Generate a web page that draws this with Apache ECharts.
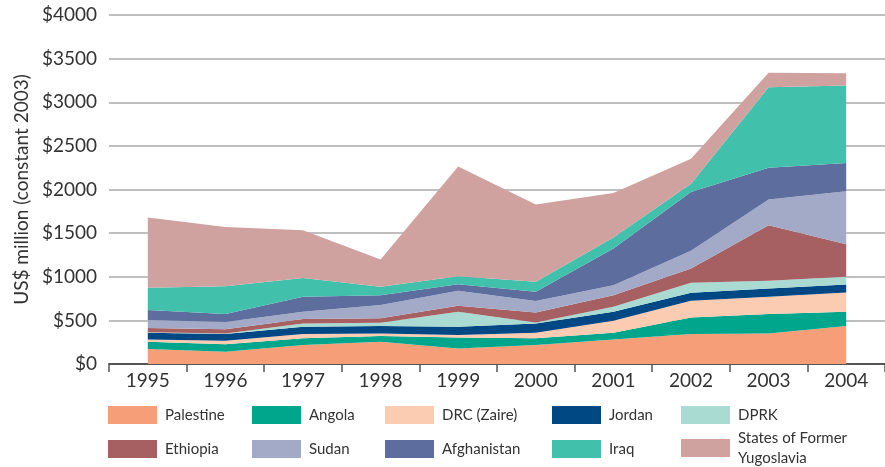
<!DOCTYPE html>
<html>
<head>
<meta charset="utf-8">
<script src="https://cdn.jsdelivr.net/npm/echarts@6/dist/echarts.min.js"></script>
<style>
    html, body { margin: 0; padding: 0; background: #fff; }
    #aid { width: 885px; height: 467px; }
</style>
</head>
<body>
<div id="aid"></div>
<script>
const years = ['1995', '1996', '1997', '1998', '1999', '2000', '2001', '2002', '2003', '2004'];
const yTicks = [0, 500, 1000, 1500, 2000, 2500, 3000, 3500, 4000];

// US$ million, stacked bottom to top
const palestine   = [172, 141, 217, 255, 179, 217, 282, 343, 351, 435];
const angola      = [83, 84, 77, 65, 126, 77, 76, 191, 221, 164];
const drc         = [27, 42, 49, 31, 27, 64, 138, 190, 198, 221];
const jordan      = [76, 76, 84, 84, 95, 107, 103, 92, 96, 92];
const dprk        = [7, 8, 38, 38, 172, 12, 57, 114, 87, 87];
const ethiopia    = [47, 46, 50, 50, 68, 114, 133, 165, 637, 374];
const sudan       = [91, 84, 84, 152, 172, 130, 115, 202, 294, 606];
const afghanistan = [115, 91, 171, 114, 76, 106, 420, 675, 366, 324];
const iraq        = [255, 320, 217, 96, 92, 115, 126, 95, 923, 889];
const yugoslavia  = [805, 679, 546, 313, 1258, 885, 510, 286, 164, 141];

const layers = [
    {name: 'Palestine', data: palestine, color: '#F59E78'},
    {name: 'Angola', data: angola, color: '#00A68B'},
    {name: 'DRC (Zaire)', data: drc, color: '#FBCCB2'},
    {name: 'Jordan', data: jordan, color: '#004883'},
    {name: 'DPRK', data: dprk, color: '#A9DBD3'},
    {name: 'Ethiopia', data: ethiopia, color: '#A66062'},
    {name: 'Sudan', data: sudan, color: '#A3AAC8'},
    {name: 'Afghanistan', data: afghanistan, color: '#5D6E9E'},
    {name: 'Iraq', data: iraq, color: '#41C0AC'},
    {name: 'States of Former Yugoslavia', data: yugoslavia, color: '#CFA19F'},
];

const font = 'Lato';
// one legend per item so nothing wraps
const legendItems = [
    {name: 'Palestine', left: 108, top: 404},
    {name: 'Angola', left: 252, top: 404},
    {name: 'DRC (Zaire)', left: 385, top: 404},
    {name: 'Jordan', left: 552, top: 404},
    {name: 'DPRK', left: 681, top: 404},
    {name: 'Ethiopia', left: 108, top: 438},
    {name: 'Sudan', left: 252, top: 438},
    {name: 'Afghanistan', left: 385, top: 438},
    {name: 'Iraq', left: 552, top: 438},
    {name: 'States of Former Yugoslavia', left: 681, top: 427},
];

const chart = echarts.init(document.getElementById('aid'));
chart.setOption({
    animation: false,
    grid: {left: 109, top: 15, width: 777, height: 349, containLabel: false},
    legend: legendItems.map(it => ({
        orient: 'vertical',
        left: it.left,
        top: it.top,
        padding: 0,
        itemWidth: 49,
        itemHeight: 18,
        icon: 'rect',
        selectedMode: false,
        data: [it.name],
        formatter: n => (n === 'States of Former Yugoslavia' ? 'States of Former\nYugoslavia' : n),
        textStyle: {
            fontFamily: font,
            fontSize: 15,
            color: '#333',
            lineHeight: 20,
            padding: [2, 0, 0, 3],
        },
    })),
    xAxis: {
        type: 'category',
        data: years,
        boundaryGap: true,
        axisLine: {lineStyle: {color: '#555', width: 2}},
        axisTick: {show: true, length: 8, lineStyle: {color: '#555', width: 1.5}},
        axisLabel: {fontFamily: font, fontSize: 19, color: '#333', margin: 7},
        splitLine: {show: false},
    },
    yAxis: {
        type: 'value',
        min: yTicks[0],
        max: yTicks[yTicks.length - 1],
        interval: yTicks[1] - yTicks[0],
        name: 'US$ million (constant 2003)',
        nameLocation: 'center',
        nameGap: 70,
        nameTextStyle: {fontFamily: font, fontSize: 19, color: '#333'},
        axisLine: {show: false},
        axisTick: {show: false},
        axisLabel: {fontFamily: font, fontSize: 19, color: '#333', margin: 12, formatter: v => '$' + v},
        splitLine: {lineStyle: {color: '#aaaaaa', width: 1.5}},
    },
    series: layers.map(l => ({
        name: l.name,
        type: 'line',
        stack: 'total',
        data: l.data,
        symbol: 'none',
        showSymbol: false,
        lineStyle: {width: 0},
        itemStyle: {color: l.color},
        areaStyle: {color: l.color, opacity: 1},
    })),
});
</script>
</body>
</html>
